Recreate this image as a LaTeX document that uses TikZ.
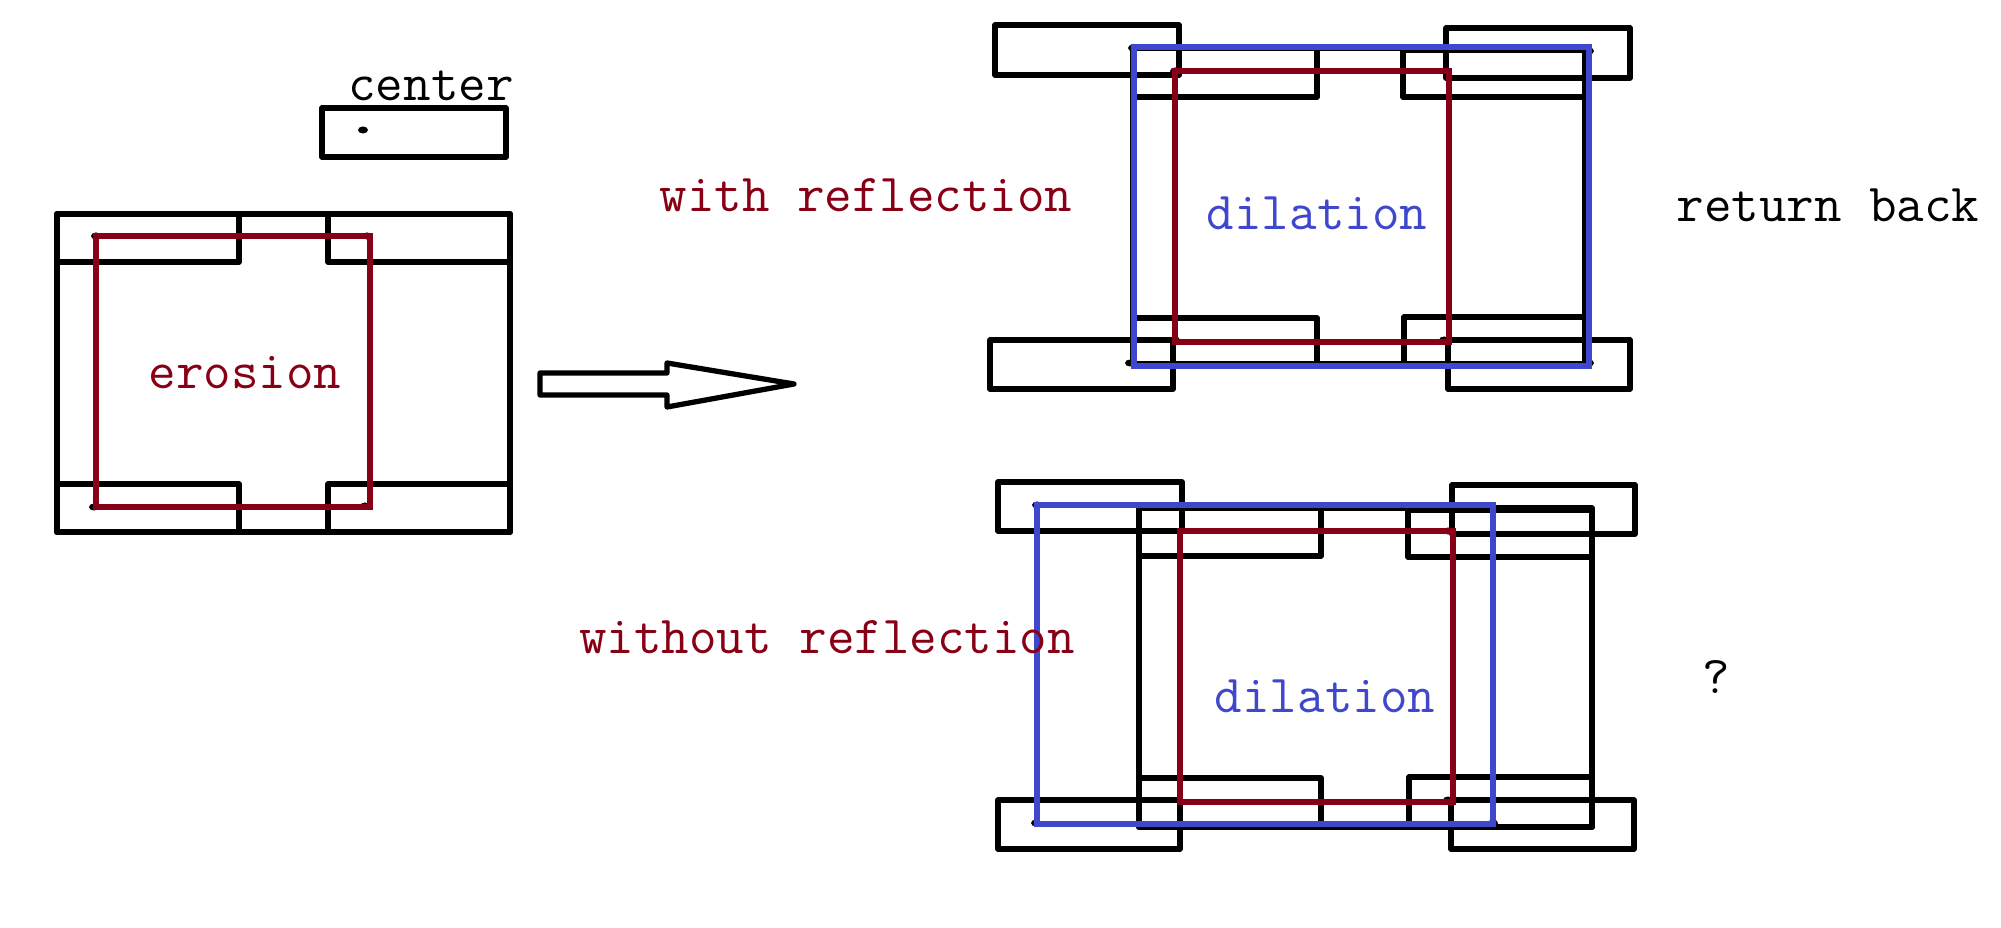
\documentclass[tikz,border=0pt]{standalone}
\usepackage{tikz}
\definecolor{ErosionRed}{HTML}{880015}
\definecolor{DilationBlue}{HTML}{3F48CC}

\begin{document}
\begin{tikzpicture}[x=0.01cm,y=-0.01cm,
    lbl/.style={anchor=base,inner sep=0pt,font=\ttfamily\fontsize{15.2}{18}\selectfont},
    seline/.style={draw=black,line width=1.5pt,line join=round},
    erline/.style={draw=ErosionRed,line width=1.6pt},
    diline/.style={draw=DilationBlue,line width=1.6pt}]
  \useasboundingbox (0,0) rectangle (2001,928);

  % structuring element
  \draw[seline] (322,108) rectangle (506,157);
  \fill (363,130) ellipse (0.05cm and 0.035cm);
  \node[lbl] (centerlbl) at (431,101) {center};

  % erosion
  \draw[seline] (57,214) rectangle (510,532);
  \foreach \x/\y in {57/214,328/214,57/484,328/484}
    \draw[seline] (\x,\y) rectangle ++(182,48);
  \foreach \x/\y in {96/236,367/236,94/507,365/506}
    \fill (\x,\y) ellipse (0.05cm and 0.035cm);
  \draw[erline] (96,236) rectangle (370,507);
  \node[lbl,text=ErosionRed] (erosionlbl) at (245,389) {erosion};

  \draw[seline] (540,373) -- (667,373) -- (667,363) -- (794,384) -- (667,407) -- (667,395) -- (540,395) -- cycle;

  % with reflection
  \draw[seline] (1133,48) rectangle (1585,364);
  \foreach \a/\b/\c/\d in {1133/48/1317/97,1403/50/1585/97,1133/318/1317/364,1404/317/1585/364,
      995/25/1179/75,1446/28/1630/78,990/340/1173/389,1448/340/1630/389}
    \draw[seline] (\a,\b) rectangle (\c,\d);
  \foreach \x/\y in {1133/48,1589/51,1130/363,1589/363,1175/71,1444/71,1444/340,1175/340}
    \fill (\x,\y) ellipse (0.05cm and 0.035cm);
  \draw[erline] (1175,71) rectangle (1449,342);
  \draw[diline] (1134,47) rectangle (1589,366);
  \node[lbl,text=ErosionRed] (withlbl) at (866,212) {with reflection};
  \node[lbl,text=DilationBlue] (dilalbl) at (1317,230) {dilation};
  \node[lbl] (returnlbl) at (1828,222) {return back};

  % without reflection
  \draw[seline] (1139,508) rectangle (1592,827);
  \foreach \a/\b/\c/\d in {1139/508/1321/556,1408/510/1592/557,1139/778/1321/827,1409/777/1592/827,
      998/482/1182/531,1452/485/1635/534,998/800/1180/849,1451/800/1634/849}
    \draw[seline] (\a,\b) rectangle (\c,\d);
  \foreach \x/\y in {1037/505,1492/509,1036/823,1493/823,1180/531,1448/531,1448/800}
    \fill (\x,\y) ellipse (0.05cm and 0.035cm);
  \draw[erline] (1180,531) rectangle (1453,802);
  \draw[diline] (1037,505) rectangle (1493,824);
  \node[lbl,text=ErosionRed] (withoutlbl) at (827,653) {without reflection};
  \node[lbl,text=DilationBlue] (dilblbl) at (1325,712) {dilation};
  \node[lbl] (querylbl) at (1716,693) {?};
\end{tikzpicture}
\end{document}
